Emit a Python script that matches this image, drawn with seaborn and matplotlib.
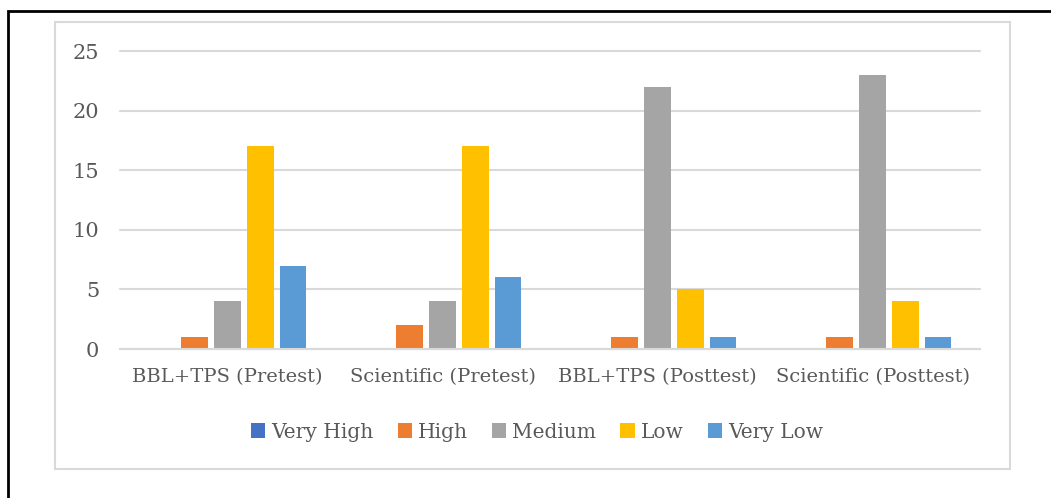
import matplotlib
matplotlib.use("Agg")
import matplotlib.pyplot as plt
from matplotlib.patches import Rectangle
import seaborn as sns
import pandas as pd

categories = ["BBL+TPS (Pretest)", "Scientific (Pretest)", "BBL+TPS (Posttest)", "Scientific (Posttest)"]
levels = ["Very High", "High", "Medium", "Low", "Very Low"]
very_high = [0, 0, 0, 0]
high = [1, 2, 1, 1]
medium = [4, 4, 22, 23]
low = [17, 17, 5, 4]
very_low = [7, 6, 1, 1]
colors = ["#4472C4", "#ED7D31", "#A5A5A5", "#FFC000", "#5B9BD5"]
yticks = [0, 5, 10, 15, 20, 25]

series = [very_high, high, medium, low, very_low]
rows = []
for lvl, vals in zip(levels, series):
    for c, v in zip(categories, vals):
        rows.append({"Group": c, "Level": lvl, "Count": v})
df = pd.DataFrame(rows)

sns.set_theme(style="white")
plt.rcParams["font.family"] = ["DejaVu Serif"]

W, H = 1051, 498
fig = plt.figure(figsize=(W / 100, H / 100), dpi=100)
ax = fig.add_axes([120 / W, 1 - 349 / H, 860 / W, 298 / H])

sns.barplot(data=df, x="Group", y="Count", hue="Level", order=categories,
            hue_order=levels, palette=colors, width=0.767, gap=0.21,
            saturation=1, linewidth=0, ax=ax, legend=True)

ax.set_ylim(0, 25)
ax.set_yticks(yticks)
ax.set_xlim(-0.5, 3.5)
ax.grid(axis="y", color="#D9D9D9", linewidth=1.5)
for gl in ax.get_ygridlines():
    gl.set_clip_on(False)
ax.set_axisbelow(True)
for s in ["top", "right", "left"]:
    ax.spines[s].set_visible(False)
ax.spines["bottom"].set_color("#D9D9D9")
ax.spines["bottom"].set_linewidth(1.5)
ax.set_xlabel("")
ax.set_ylabel("")
ax.tick_params(axis="y", length=0, pad=15, labelsize=15, labelcolor="#595959")
ax.tick_params(axis="x", length=0, pad=14, labelsize=14, labelcolor="#595959")

leg = ax.legend(loc="center", bbox_to_anchor=(537 / W, 1 - 432 / H),
                bbox_transform=fig.transFigure, ncol=5, frameon=False,
                fontsize=14.5, handlelength=0.7, handleheight=0.7,
                handletextpad=0.3, columnspacing=1.2, labelcolor="#595959")

# inner chart border
fig.patches.append(Rectangle((55 / W, 1 - 469 / H), (1010 - 55) / W, (469 - 22) / H,
                             transform=fig.transFigure, fill=False,
                             edgecolor="#D9D9D9", linewidth=1.5))
# outer black border
fig.patches.append(Rectangle((8 / W, -0.1), 1.2, 1.1 - 11 / H,
                             transform=fig.transFigure, fill=False,
                             edgecolor="black", linewidth=2))

fig.savefig("out.png", dpi=100)
